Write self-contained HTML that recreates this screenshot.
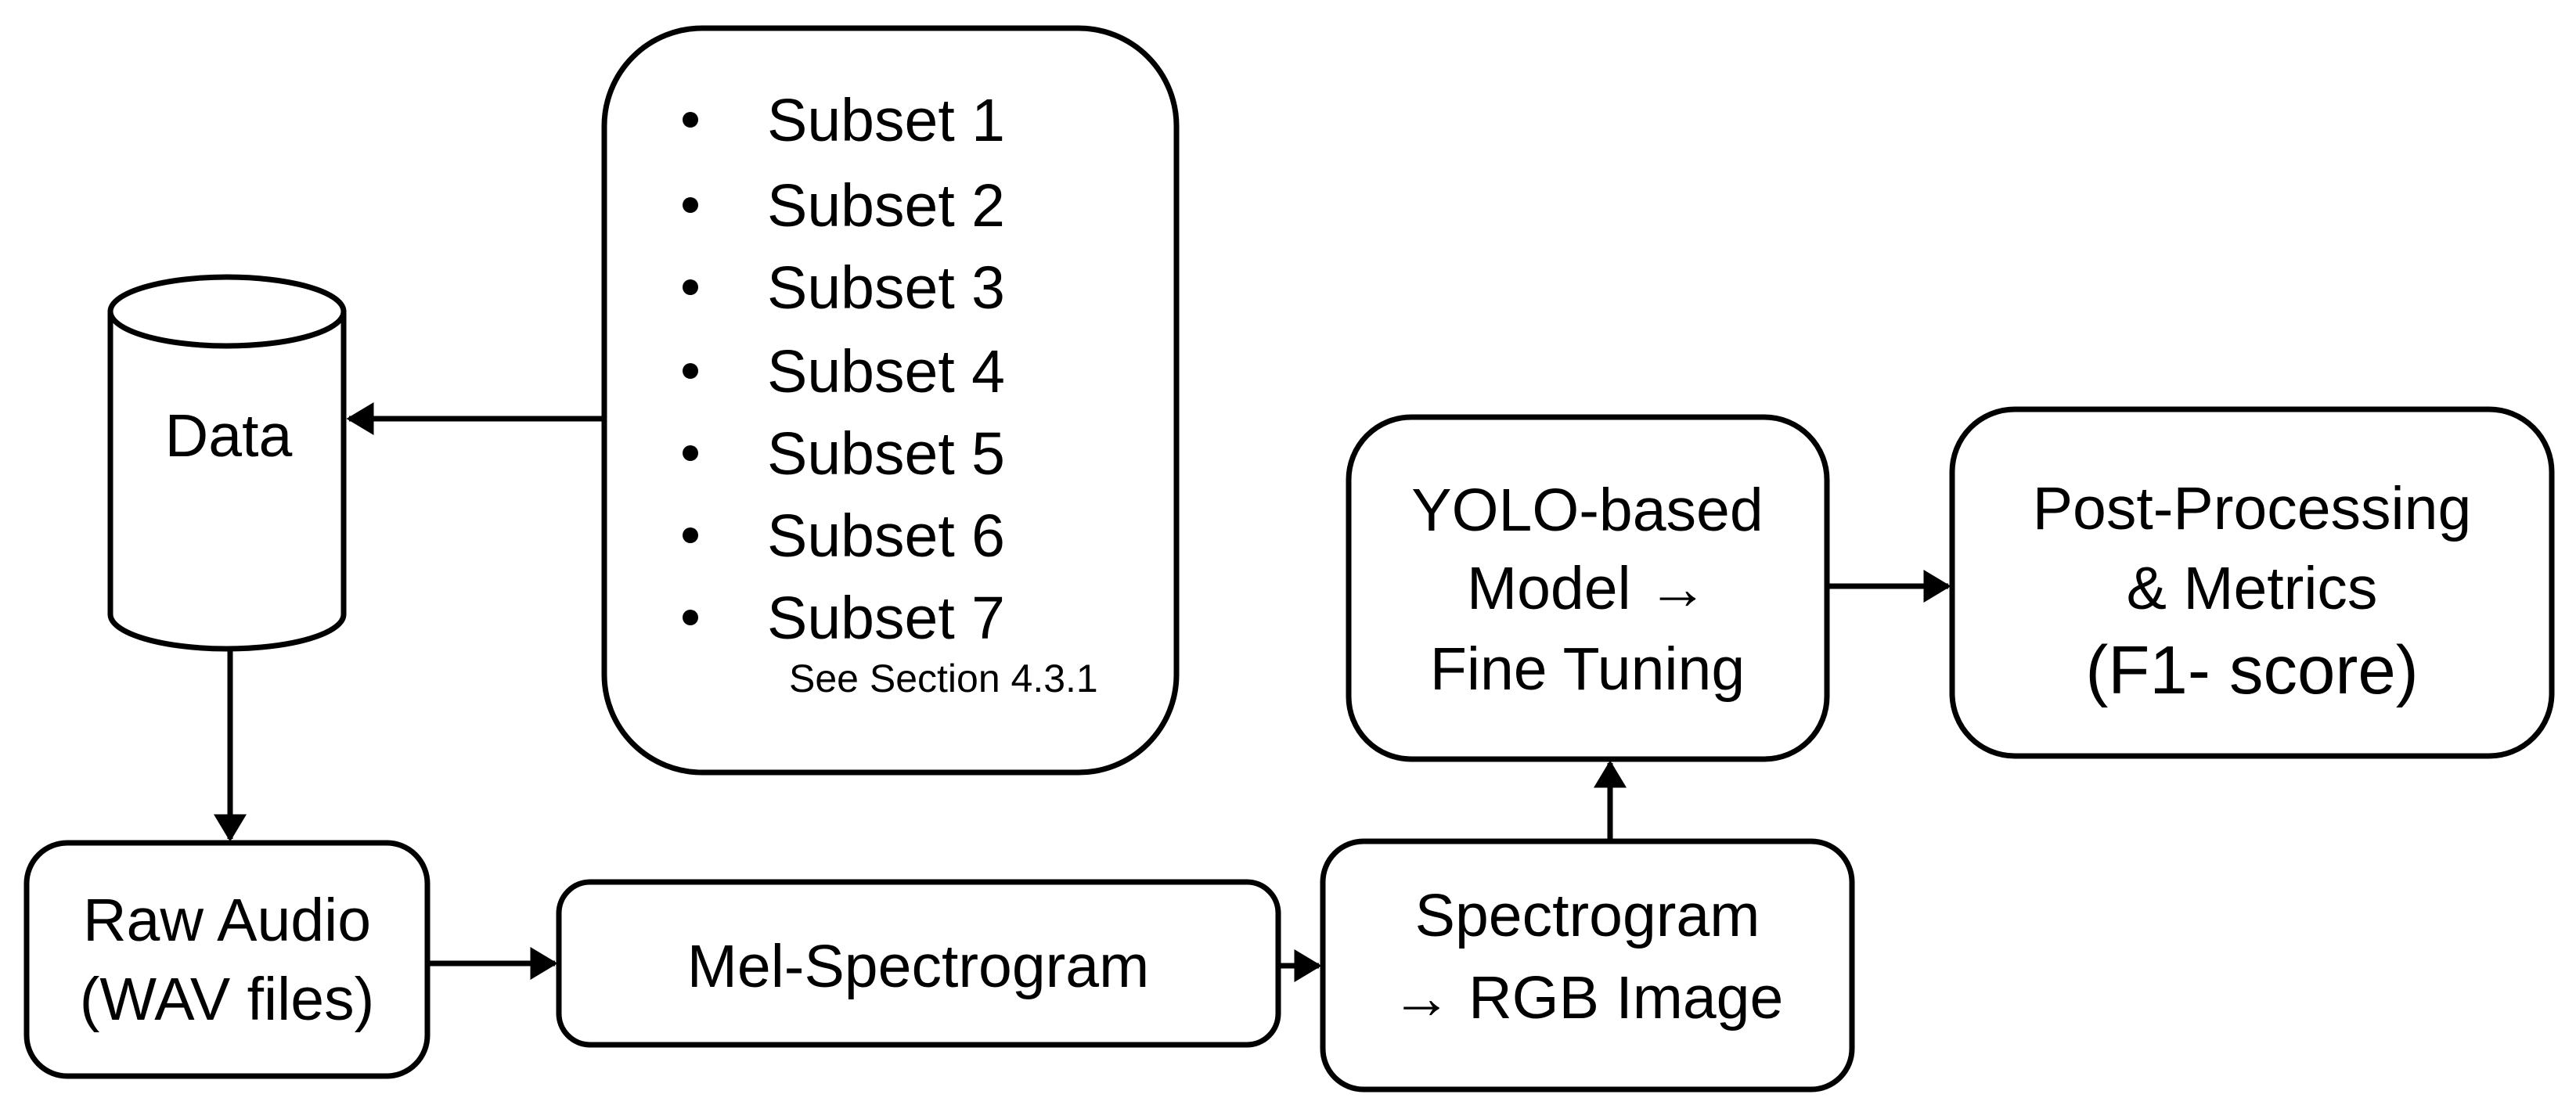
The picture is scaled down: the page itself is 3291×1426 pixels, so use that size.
<!DOCTYPE html>
<html><head><meta charset="utf-8"><style>
html,body{margin:0;padding:0;background:#fff;}
svg{display:block;}
text{font-family:"Liberation Sans",sans-serif;fill:#000;}
</style></head><body>
<svg width="3291" height="1426" viewBox="0 0 3291 1426" xmlns="http://www.w3.org/2000/svg">
<defs>
<marker id="a" markerWidth="5" markerHeight="6" refX="4.5" refY="3" orient="auto" markerUnits="strokeWidth">
<path d="M0,0 L5,3 L0,6 z" fill="#000"/></marker>
</defs>
<g fill="none" stroke="#000" stroke-width="7">
<path d="M141,398 L141,785 A149,44 0 0 0 439,785 L439,398"/>
<ellipse cx="290" cy="398" rx="149" ry="44"/>
<rect x="772" y="36" width="731" height="951" rx="125"/>
<rect x="34" y="1077" width="512" height="298" rx="52"/>
<rect x="714" y="1127" width="919" height="208" rx="40"/>
<rect x="1690" y="1075" width="676" height="317" rx="52"/>
<rect x="1723" y="533" width="611" height="437" rx="80"/>
<rect x="2494" y="523" width="766" height="443" rx="80"/>
<line x1="772" y1="535" x2="446" y2="535" marker-end="url(#a)"/>
<line x1="294" y1="829" x2="294" y2="1072" marker-end="url(#a)"/>
<line x1="546" y1="1231" x2="709" y2="1231" marker-end="url(#a)"/>
<line x1="1633" y1="1234" x2="1685" y2="1234" marker-end="url(#a)"/>
<line x1="2057" y1="1075" x2="2057" y2="975" marker-end="url(#a)"/>
<line x1="2334" y1="749" x2="2489" y2="749" marker-end="url(#a)"/>
</g>
<g font-size="77">
<text x="292" y="583" text-anchor="middle">Data</text>
<g fill="#000">
<circle cx="882" cy="153" r="10"/><circle cx="882" cy="262" r="10"/><circle cx="882" cy="367" r="10"/><circle cx="882" cy="474" r="10"/><circle cx="882" cy="579" r="10"/><circle cx="882" cy="684" r="10"/><circle cx="882" cy="789" r="10"/>
</g>
<text x="980" y="180">Subset 1</text>
<text x="980" y="289">Subset 2</text>
<text x="980" y="394">Subset 3</text>
<text x="980" y="501">Subset 4</text>
<text x="980" y="606">Subset 5</text>
<text x="980" y="711">Subset 6</text>
<text x="980" y="816">Subset 7</text>
<text x="1008" y="884" font-size="50">See Section 4.3.1</text>
<text x="290" y="1202" text-anchor="middle">Raw Audio</text>
<text x="290" y="1303" text-anchor="middle">(WAV files)</text>
<text x="1173" y="1261" text-anchor="middle">Mel-Spectrogram</text>
<text x="2028" y="1196" text-anchor="middle">Spectrogram</text>
<text x="2028" y="1301" text-anchor="middle">→ RGB Image</text>
<text x="2028" y="678" text-anchor="middle">YOLO-based</text>
<text x="2028" y="778" text-anchor="middle">Model →</text>
<text x="2028" y="881" text-anchor="middle">Fine Tuning</text>
<text x="2877" y="676" text-anchor="middle">Post-Processing</text>
<text x="2877" y="778" text-anchor="middle">&amp; Metrics</text>
<text x="2877" y="886" text-anchor="middle" font-size="87">(F1- score)</text>
</g>
</svg>
</body></html>
